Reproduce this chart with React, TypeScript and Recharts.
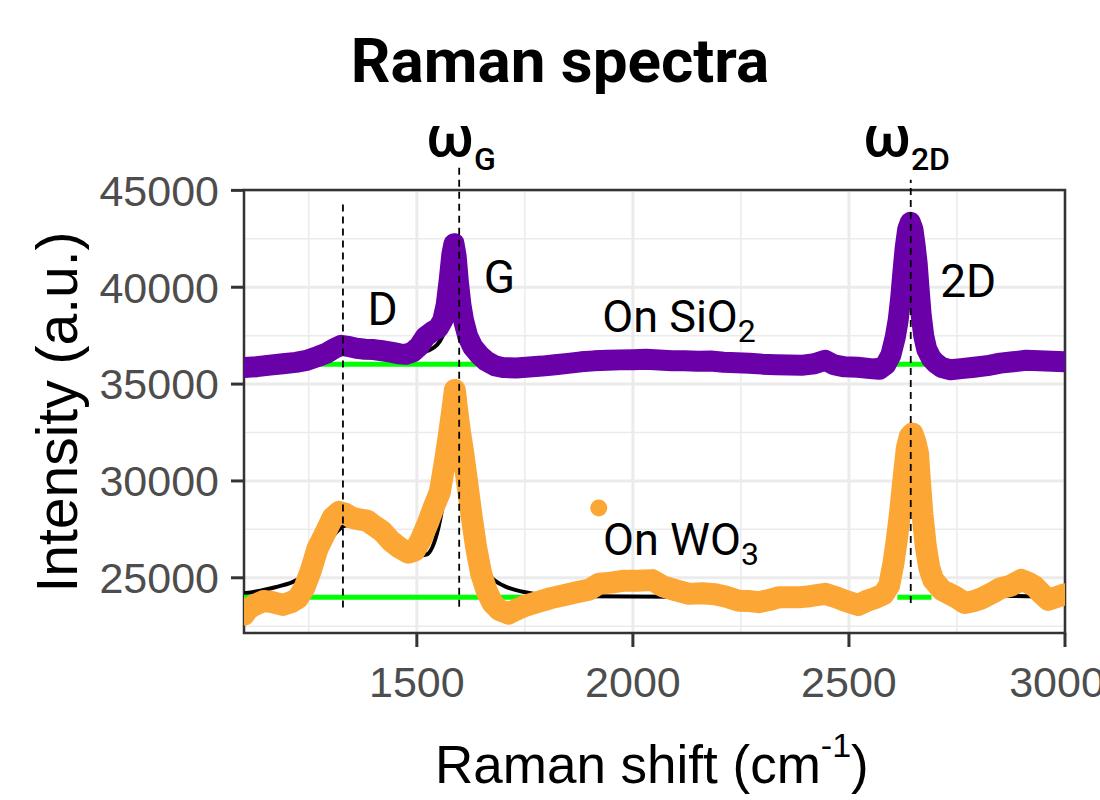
import React from 'react';
import {
  ComposedChart,
  Line,
  Scatter,
  XAxis,
  YAxis,
  CartesianGrid,
  ReferenceLine,
  ReferenceArea,
  ReferenceDot,
} from 'recharts';

// axis breaks
const xTicks = [1500, 2000, 2500, 3000];
const xMinor = [1250, 1750, 2250, 2750];
const yTicks = [25000, 30000, 35000, 40000, 45000];
const yMinor = [22500, 27500, 32500, 37500, 42500];

// measured spectra [Raman shift, intensity]
const sio2Spectrum: [number, number][] = [
  [1100, 35850], [1130, 35900], [1160, 35980], [1190, 36050], [1220, 36120], [1245, 36220],
  [1270, 36420], [1291, 36600], [1310, 36850], [1325, 37000], [1340, 36950], [1360, 36850],
  [1380, 36800], [1400, 36780], [1420, 36720], [1440, 36650], [1460, 36560], [1475, 36540],
  [1490, 36650], [1505, 36950], [1520, 37450], [1535, 37700], [1550, 37900], [1560, 38300],
  [1568, 39100], [1575, 40400], [1581, 41700], [1586, 42250], [1591, 41600], [1596, 40300],
  [1602, 39100], [1608, 38300], [1618, 37450], [1630, 36900], [1645, 36500], [1660, 36200],
  [1680, 35950], [1700, 35850], [1730, 35830], [1760, 35880], [1790, 35930], [1820, 36000],
  [1850, 36070], [1880, 36150], [1910, 36200], [1940, 36230], [1970, 36250], [2000, 36260],
  [2030, 36280], [2060, 36240], [2090, 36200], [2120, 36210], [2150, 36180], [2180, 36190],
  [2210, 36130], [2240, 36100], [2270, 36080], [2300, 36030], [2330, 36000], [2360, 35980],
  [2390, 35970], [2420, 36050], [2445, 36230], [2465, 36000], [2490, 35890], [2520, 35870],
  [2550, 35800], [2570, 35760], [2585, 36000], [2597, 36500], [2607, 37400], [2614, 38300],
  [2620, 39500], [2625, 40800], [2630, 42000], [2636, 43000], [2642, 43350], [2648, 43000],
  [2653, 42200], [2658, 41200], [2662, 40000], [2667, 38600], [2673, 37500], [2680, 36800],
  [2690, 36350], [2700, 36100], [2715, 35850], [2735, 35740], [2760, 35800], [2790, 35870],
  [2820, 35950], [2850, 36080], [2880, 36150], [2910, 36230], [2940, 36200], [2970, 36180],
  [3000, 36150],
];

const wo3Spectrum: [number, number][] = [
  [1100, 23100], [1110, 23400], [1125, 23600], [1145, 23800], [1165, 23750], [1190, 23600],
  [1210, 23750], [1225, 23950], [1240, 24500], [1255, 25400], [1270, 26500], [1290, 27400],
  [1305, 28100], [1320, 28400], [1335, 28300], [1350, 28100], [1370, 28000], [1385, 27950],
  [1400, 27700], [1420, 27400], [1440, 26900], [1460, 26550], [1480, 26300], [1495, 26400],
  [1510, 27000], [1525, 27800], [1540, 28700], [1553, 29400], [1565, 31000], [1575, 32500],
  [1583, 33800], [1588, 34700], [1593, 33700], [1600, 32500], [1607, 31500], [1616, 30000],
  [1626, 28300], [1637, 26600], [1649, 25200], [1662, 24300], [1675, 23700], [1690, 23350],
  [1712, 23150], [1730, 23350], [1750, 23550], [1780, 23750], [1810, 23950], [1840, 24100],
  [1870, 24250], [1900, 24400], [1922, 24700], [1950, 24750], [1980, 24850], [2010, 24850],
  [2045, 24880], [2070, 24550], [2100, 24350], [2130, 24170], [2160, 24200], [2190, 24150],
  [2214, 24030], [2245, 23820], [2270, 23800], [2291, 23740], [2315, 23850], [2337, 23990],
  [2360, 24000], [2383, 23990], [2410, 24050], [2445, 24170], [2470, 24000], [2491, 23820],
  [2522, 23600], [2540, 23800], [2560, 23950], [2580, 24150], [2593, 24600], [2603, 25750],
  [2611, 27000], [2618, 28300], [2626, 30050], [2634, 31700], [2641, 32300], [2647, 32450],
  [2654, 32000], [2660, 31400], [2664, 30050], [2670, 28300], [2678, 26600], [2686, 25500],
  [2695, 24900], [2715, 24370], [2745, 24030], [2768, 23700], [2790, 23800], [2807, 23940],
  [2830, 24200], [2850, 24450], [2875, 24600], [2899, 24890], [2915, 24750], [2930, 24550],
  [2945, 24200], [2961, 23860], [2980, 24000], [3000, 24150],
];

const wo3Outlier: [number, number][] = [[1921, 28600]];

// fitted curves
const sio2Fit: [number, number][] = [
  [1100, 36150], [1200, 36300], [1280, 36650], [1330, 36950], [1380, 36850], [1440, 36650],
  [1500, 36600], [1540, 36900], [1565, 37800], [1577, 39500], [1587, 42150], [1598, 39500],
  [1618, 37300], [1650, 36500], [1700, 36200], [1800, 36100], [2500, 36050], [2590, 36400],
  [2620, 39500], [2642, 43300], [2665, 39500], [2695, 36400], [2750, 36150], [3000, 36080],
];

const wo3Fit: [number, number][] = [
  [1100, 24200], [1170, 24500], [1230, 25000], [1265, 25900], [1300, 27000], [1335, 27700],
  [1370, 27750], [1410, 27300], [1450, 26600], [1490, 26100], [1522, 26200], [1550, 27600],
  [1575, 31000], [1590, 34000], [1610, 31500], [1630, 28500], [1650, 26400], [1670, 25100],
  [1700, 24600], [1745, 24280], [1800, 24100], [1900, 24050], [2100, 24020], [2400, 24020],
  [2560, 24100], [2600, 25000], [2625, 29000], [2647, 32300], [2668, 29000], [2692, 25000],
  [2730, 24300], [2800, 24100], [3000, 24030],
];

// integration baselines
const baselineSegments: [number, number, number][] = [
  [1275, 1645, 36030],
  [2599, 2678, 36030],
  [1100, 1745, 24000],
  [2612, 2691, 24000],
];

// peak markers: position, bottom, top
const peakMarkers: [number, number, number][] = [
  [1329, 23460, 44420],
  [1598, 23510, 46170],
  [2643, 23700, 45550],
];

const toRows = (pairs: [number, number][]) => pairs.map(([x, y]) => ({ x, y }));

const PURPLE = '#6A00A8';
const ORANGE = '#FCA636';
const ANNOT_FONT = 'Roboto, "Noto Sans", sans-serif';
const AXIS_FONT = '"Liberation Sans", Arial, sans-serif';

const annot =
  (main: string, sub = '', size = 45, subSize = 31, subDy = 10, anchor: 'start' | 'middle' = 'start', weight = 400) =>
  (props: any) => {
    const vb = props.viewBox || {};
    const x = (vb.x ?? 0) + (vb.width ?? 0) / 2;
    const y = (vb.y ?? 0) + (vb.height ?? 0) / 2;
    return (
      <text x={x} y={y} textAnchor={anchor} fontFamily={ANNOT_FONT} fontSize={size} fontWeight={weight} fill="#000">
        <tspan>{main}</tspan>
        {sub ? (
          <tspan fontSize={subSize} dy={subDy}>
            {sub}
          </tspan>
        ) : null}
      </text>
    );
  };

const annotations: { x: number; y: number; render: (p: any) => React.ReactNode }[] = [
  { x: 1421, y: 38063, render: annot('D', '', 46, 31, 0, 'middle') },
  { x: 1691, y: 39712, render: annot('G', '', 46, 31, 0, 'middle') },
  { x: 2776, y: 39510, render: annot('2D', '', 46, 31, 0, 'middle') },
  { x: 1929, y: 37707, render: annot('On SiO', '2', 45, 32, 10) },
  { x: 1931, y: 26190, render: annot('On WO', '3', 45, 32, 10) },
  { x: 1522, y: 46792, render: annot('ω', 'G', 58, 32, 14, 'start', 500) },
  { x: 2533, y: 46792, render: annot('ω', '2D', 58, 32, 14, 'start', 500) },
];

const App: React.FC = () => {
  const sio2Rows = toRows(sio2Spectrum);
  const wo3Rows = toRows(wo3Spectrum);

  return (
    <div style={{ position: 'absolute', left: 0, top: 0, width: 1100, height: 800, overflow: 'hidden', background: '#fff' }}>
      <ComposedChart width={1100} height={800} margin={{ top: 190, right: 35, bottom: 107, left: 0 }}>
        <CartesianGrid stroke="#ebebeb" strokeWidth={1.5} horizontalValues={yMinor} verticalValues={xMinor} />
        <CartesianGrid stroke="#ebebeb" strokeWidth={3} horizontalValues={yTicks} verticalValues={xTicks} />
        <XAxis
          type="number"
          dataKey="x"
          domain={[1100, 3000]}
          ticks={xTicks}
          allowDataOverflow
          axisLine={false}
          tickLine={{ stroke: '#333333', strokeWidth: 3 }}
          tickSize={14}
          tickMargin={19}
          height={60}
          tick={{ fill: '#4d4d4d', fontSize: 43, fontFamily: AXIS_FONT }}
        />
        <YAxis
          type="number"
          dataKey="y"
          domain={[22150, 45020]}
          ticks={yTicks}
          allowDataOverflow
          axisLine={false}
          tickLine={{ stroke: '#333333', strokeWidth: 3 }}
          tickSize={13}
          tickMargin={12}
          width={244}
          tick={{ fill: '#4d4d4d', fontSize: 43, fontFamily: AXIS_FONT }}
        />

        <Line data={toRows(sio2Fit)} dataKey="y" type="monotone" stroke="#000" strokeWidth={4} dot={false} activeDot={false} isAnimationActive={false} />
        <Line data={toRows(wo3Fit)} dataKey="y" type="monotone" stroke="#000" strokeWidth={4} dot={false} activeDot={false} isAnimationActive={false} />

        {baselineSegments.map(([x1, x2, y], i) => (
          <Line
            key={`base-${i}`}
            data={[{ x: x1, y }, { x: x2, y }]}
            dataKey="y"
            stroke="#00FF00"
            strokeWidth={5}
            dot={false}
            activeDot={false}
            isAnimationActive={false}
          />
        ))}

        <Line
          data={sio2Rows}
          dataKey="y"
          type="linear"
          stroke={PURPLE}
          strokeWidth={21}
          strokeLinejoin="round"
          strokeLinecap="round"
          dot={false}
          activeDot={false}
          isAnimationActive={false}
        />
        <Line
          data={wo3Rows}
          dataKey="y"
          type="linear"
          stroke={ORANGE}
          strokeWidth={22}
          strokeLinejoin="round"
          strokeLinecap="round"
          dot={false}
          activeDot={false}
          isAnimationActive={false}
        />
        <Scatter
          data={toRows(wo3Outlier)}
          dataKey="y"
          fill={ORANGE}
          isAnimationActive={false}
          shape={(p: any) => <circle cx={p.cx} cy={p.cy} r={8.5} fill={ORANGE} />}
        />

        {peakMarkers.map(([x, y1, y2], i) => (
          <ReferenceLine
            key={`peak-${i}`}
            segment={[{ x, y: y1 }, { x, y: y2 }]}
            stroke="#000"
            strokeWidth={1.8}
            strokeDasharray="7 5"
            ifOverflow="visible"
          />
        ))}

        <ReferenceArea
          x1={1100}
          x2={3000}
          y1={22150}
          y2={45020}
          fill="none"
          fillOpacity={0}
          stroke="#333333"
          strokeWidth={2.5}
          ifOverflow="visible"
        />

        {annotations.map((a, i) => (
          <ReferenceDot key={`ann-${i}`} x={a.x} y={a.y} r={1} fill="none" stroke="none" ifOverflow="visible" label={a.render} />
        ))}
      </ComposedChart>

      <svg width={1100} height={800} style={{ position: 'absolute', left: 0, top: 0, pointerEvents: 'none' }}>
        <text x={560} y={82} textAnchor="middle" fontFamily={ANNOT_FONT} fontWeight={700} fontSize={62} fill="#000">
          Raman spectra
        </text>
        <text x={435} y={783} fontFamily={AXIS_FONT} fontSize={53} fill="#000">
          <tspan>Raman shift (cm</tspan>
          <tspan fontSize={34} dy={-26}>
            -1
          </tspan>
          <tspan dy={26}>)</tspan>
        </text>
        <text
          transform="translate(77, 412) rotate(-90)"
          textAnchor="middle"
          fontFamily={AXIS_FONT}
          fontSize={57}
          fill="#000"
        >
          Intensity (a.u.)
        </text>
      </svg>
    </div>
  );
};

export default App;
